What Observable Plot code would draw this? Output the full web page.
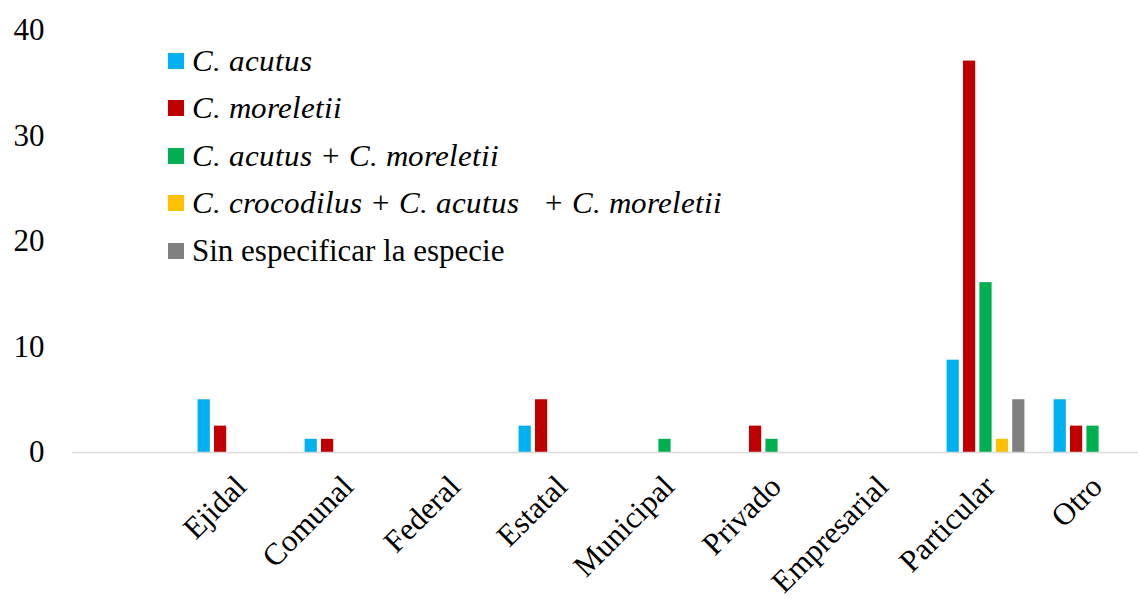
<!DOCTYPE html>
<html>
<head>
<meta charset="utf-8">
<script src="https://cdn.jsdelivr.net/npm/d3@7"></script>
<script src="https://cdn.jsdelivr.net/npm/@observablehq/plot@0.6"></script>
<style>
  @font-face { font-family: "LSerifItalic"; src: local("Liberation Serif Italic"), local("LiberationSerif-Italic"); font-style: italic; }
  @font-face { font-family: "LSerifSyn"; src: local("Liberation Serif"), local("LiberationSerif"); font-style: normal; }
  body { margin: 0; background: #fff; }
  #wrap { position: relative; width: 1138px; height: 599px; font-family: "Liberation Serif", "Times New Roman", serif; }
  #legend { position: absolute; left: 168px; top: 37px; }
  .row { display: flex; align-items: center; height: 47.5px; font-size: 31px; color: #000; white-space: pre; }
  .sw { width: 16px; height: 16px; margin-right: 8px; flex: none; }
  .row i { font-family: "LSerifItalic", "LSerifSyn", "Liberation Serif", serif; font-style: italic; }
</style>
</head>
<body>
<div id="wrap"><div id="legend"></div></div>
<script>
const categories = ["", "Ejidal", "Comunal", "Federal", "Estatal", "Municipal", "Privado", "Empresarial", "Particular", "Otro"];
const seriesNames = ["C. acutus", "C. moreletii", "C. acutus + C. moreletii", "C. crocodilus + C. acutus   + C. moreletii", "Sin especificar la especie"];
const acutus          = [0, 5,   1.25, 0, 2.5, 0,    0,    0, 8.75, 5];
const moreletii       = [0, 2.5, 1.25, 0, 5,   0,    2.5,  0, 37.1, 2.5];
const acutusMoreletii = [0, 0,   0,    0, 0,   1.25, 1.25, 0, 16.1, 2.5];
const tresEspecies    = [0, 0,   0,    0, 0,   0,    0,    0, 1.25, 0];
const sinEspecificar  = [0, 0,   0,    0, 0,   0,    0,    0, 5,    0];
const yTicks = [0, 10, 20, 30, 40];
const colors = ["#00b0f0", "#c00000", "#00b050", "#ffc000", "#808080"];

const seriesValues = [acutus, moreletii, acutusMoreletii, tresEspecies, sinEspecificar];

// legend (HTML)
const legendHtml = [
  '<i>C. acutus</i>',
  '<i>C. moreletii</i>',
  '<i>C. acutus + C. moreletii</i>',
  '<i>C. crocodilus + C. acutus   + C. moreletii</i>',
  '<span>Sin especificar la especie</span>'
];
const legend = document.getElementById("legend");
seriesNames.forEach((name, i) => {
  const row = document.createElement("div");
  row.className = "row";
  row.innerHTML = `<div class="sw" style="background:${colors[i]}"></div>${legendHtml[i]}`;
  row.title = name;
  legend.appendChild(row);
});

const x0 = 72, x1 = 1150;
const step = (x1 - x0) / categories.length;
const barW = 13, pitch = 16.4;

const barMarks = seriesValues.map((vals, i) => {
  const data = categories.map((c, j) => ({cat: c, value: vals[j]})).filter(d => d.value > 0);
  const left = step / 2 + (i - 2) * pitch - barW / 2;
  return Plot.barY(data, {
    x: "cat", y: "value", fill: colors[i],
    insetLeft: left, insetRight: step - left - barW
  });
});

const chart = Plot.plot({
  width: 1138,
  height: 599,
  marginLeft: 72,
  marginRight: 0,
  marginTop: 30,
  marginBottom: 147,
  style: {fontFamily: "'Liberation Serif', 'Times New Roman', serif", color: "#000", background: "#fff"},
  x: {domain: categories, range: [x0, x1], padding: 0},
  y: {domain: [0, 40]},
  marks: [
    ...barMarks,
    Plot.ruleY([0], {stroke: "#d9d9d9", strokeWidth: 1.5}),
    Plot.axisY({ticks: yTicks, tickSize: 0, tickPadding: 28, fontSize: 31, label: null}),
    Plot.axisX({tickSize: 0, tickRotate: -45, tickPadding: 29, fontSize: 31, label: null, dx: 4})
  ]
});
document.getElementById("wrap").prepend(chart);
</script>
</body>
</html>
